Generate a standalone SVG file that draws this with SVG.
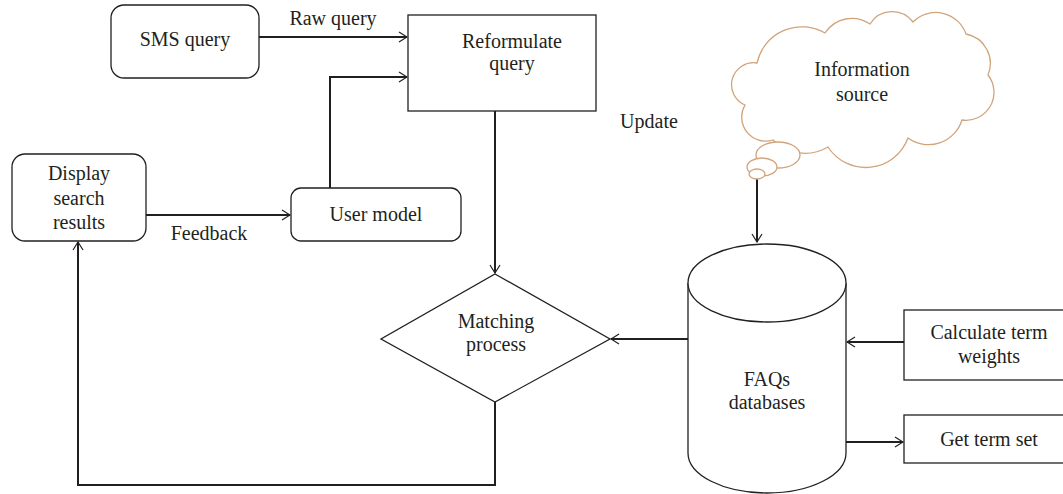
<svg xmlns="http://www.w3.org/2000/svg" width="1063" height="494" viewBox="0 0 1063 494">
<defs>
<marker id="arr" markerWidth="10" markerHeight="12" refX="9" refY="6" orient="auto" markerUnits="userSpaceOnUse">
<path d="M1,1 L9,6 L1,11" fill="none" stroke="#231f20" stroke-width="1.2"/>
</marker>
<style>
.n{fill:#fff;stroke:#231f20;stroke-width:1.3}
.c{fill:none;stroke:#231f20;stroke-width:2}
.t{font-family:"Liberation Serif",serif;font-size:20px;fill:#231f20;text-anchor:middle}
.cl{fill:#fff;stroke:#d2a47c;stroke-width:1.3}
</style>
</defs>
<rect width="1063" height="494" fill="#fff"/>
<g id="connectors">
<line class="c" x1="259" y1="37" x2="407" y2="37" marker-end="url(#arr)"/>
<polyline class="c" points="330,188 330,77 407,77" marker-end="url(#arr)"/>
<line class="c" x1="146" y1="215" x2="290" y2="215" marker-end="url(#arr)"/>
<line class="c" x1="495" y1="111" x2="495" y2="273" marker-end="url(#arr)"/>
<line class="c" x1="688" y1="339" x2="611" y2="339" marker-end="url(#arr)"/>
<polyline class="c" points="495,402 495,485 78,485 78,242" marker-end="url(#arr)"/>
<line class="c" x1="757" y1="178" x2="757" y2="242" marker-end="url(#arr)"/>
<line class="c" x1="904" y1="342" x2="847" y2="342" marker-end="url(#arr)"/>
<line class="c" x1="846" y1="442" x2="903" y2="442" marker-end="url(#arr)"/>
<text class="t" x="333" y="25">Raw query</text>
<text class="t" x="209" y="240">Feedback</text>
<text class="t" x="649" y="128">Update</text>
</g>
<g id="sms">
<rect class="n" x="111" y="5" width="148" height="73" rx="13"/>
<text class="t" x="185" y="46">SMS query</text>
</g>
<g id="reformulate">
<rect class="n" x="408" y="15" width="188" height="96"/>
<text class="t" x="512" y="48">Reformulate</text>
<text class="t" x="512" y="70">query</text>
</g>
<g id="display">
<rect class="n" x="12" y="154" width="134" height="87" rx="13"/>
<text class="t" x="79" y="180">Display</text>
<text class="t" x="79" y="205">search</text>
<text class="t" x="79" y="229">results</text>
</g>
<g id="usermodel">
<rect class="n" x="291" y="188" width="170" height="53" rx="10"/>
<text class="t" x="376" y="221">User model</text>
</g>
<g id="matching">
<polygon class="n" points="495,274 610,339 495,402 381,339"/>
<text class="t" x="496" y="328">Matching</text>
<text class="t" x="496" y="351">process</text>
</g>
<g id="faqs">
<path class="n" d="M688,283 L688,453 A79,40 0 0 0 846,453 L846,283 A79,39 0 0 0 688,283 Z"/>
<path class="n" fill="none" d="M688,283 A79,39 0 0 0 846,283"/>
<text class="t" x="767" y="386">FAQs</text>
<text class="t" x="767" y="409">databases</text>
</g>
<g id="calc">
<rect class="n" x="904" y="310" width="170" height="70"/>
<text class="t" x="989" y="339">Calculate term</text>
<text class="t" x="989" y="363">weights</text>
</g>
<g id="getterm">
<rect class="n" x="904" y="415" width="170" height="48"/>
<text class="t" x="989" y="446">Get term set</text>
</g>
<g id="infosource">
<path class="cl" d="M773,140 A24,24 0 0 1 745,105 A22,22 0 0 1 757,63 A46,46 0 0 1 825,33 A32,32 0 0 1 870,24 A26,26 0 0 1 913,22 A32,32 0 0 1 966,34 A30,30 0 0 1 988,75 A28,28 0 0 1 962,120 A35,35 0 0 1 908,138 A45,45 0 0 1 828,147 A45,45 0 0 1 773,140 Z"/>
<ellipse class="cl" cx="778" cy="155" rx="22" ry="13" fill="none"/>
<ellipse class="cl" cx="762" cy="167" rx="15" ry="9" fill="none"/>
<ellipse class="cl" cx="757" cy="174" rx="8" ry="5" fill="none"/>
<text class="t" x="862" y="76">Information</text>
<text class="t" x="862" y="101">source</text>
</g>
</svg>
